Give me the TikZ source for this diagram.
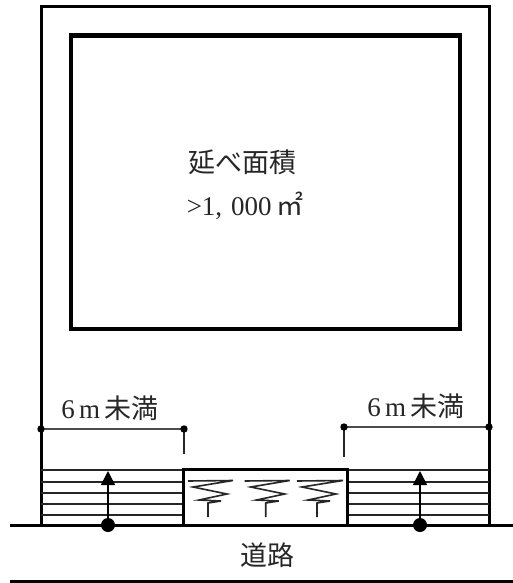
\documentclass[tikz,border=0pt]{standalone}
\usepackage{fontspec}
\setmainfont{Liberation Serif}
\newfontfamily\jpfont{Noto Sans CJK JP}
\usetikzlibrary{arrows.meta}
\def\springmark(#1:#2:#3){\draw[line width=1.6, color=black!85] ({#1+#2},481) -- ({#1+#3},480.5) -- ({#1-15},487) -- ({#1+19},494) -- ({#1-9},500) -- ({#1+13},501) -- (#1,503) -- (#1,517);}
\tikzset{labeltext/.style={inner sep=0pt, font=\fontsize{27}{30}\selectfont, color=black!85}}

\begin{document}
\begin{tikzpicture}[x=1pt, y=-1pt]
		%%%%% START %%%%%
		\useasboundingbox (0, 0) rectangle (513, 583);
		
		\draw[line width=3] (41, 525) -- (41, 7) -- (489, 7) -- (489, 525);
		\draw[line width=4.5] (71, 35.5) rectangle (460, 329);
		
		\draw[line width=3] (10, 525) -- (513, 525);
		\draw[line width=3] (10, 581) -- (513, 581);
		
		\foreach \y in {470, 481.5, 492.5, 503.5, 515}{
			\draw[line width=2, color=black!85] (41, \y) -- (183, \y);
			\draw[line width=2, color=black!85] (347, \y) -- (489, \y);
		}
		\draw[line width=3, fill=white] (183, 469) rectangle (347, 525);
		
		\foreach \x in {108, 420}{
			\draw[line width=1.6, -{Triangle[width=14, length=14]}] (\x, 525) -- (\x, 471);
			\fill (\x, 525) circle (7);
		}
		
		\springmark(208:-20:25)
		\springmark(265.7:-21:24)
		\springmark(317:-20:26)
		
		\draw[line width=1.7, color=black!70] (41, 429) -- (184, 429);
		\draw[line width=1.5, color=black!85] (184, 429) -- (184, 454);
		\fill (41, 429) circle (3.7);
		\fill (184, 429) circle (3.7);
		\draw[line width=1.7, color=black!70] (344, 427) -- (489, 427);
		\draw[line width=1.5, color=black!85] (344, 427) -- (344, 457);
		\fill (344, 427) circle (3.7);
		\fill (489, 427) circle (3.7);
		
		\node[labeltext] (areaname) at (242, 162) {\jpfont 延べ面積};
		\node[labeltext] (areavalue) at (245, 206) {>1,\,\,000\,{\jpfont ㎡}};
		\node[labeltext] (widthleft) at (110, 408) {6\,m\,{\jpfont 未満}};
		\node[labeltext] (widthright) at (416, 406) {6\,m\,{\jpfont 未満}};
		\node[labeltext] (roadname) at (267, 555) {\jpfont 道路};
		
		%%%%% END %%%%%
	\end{tikzpicture}
\end{document}
